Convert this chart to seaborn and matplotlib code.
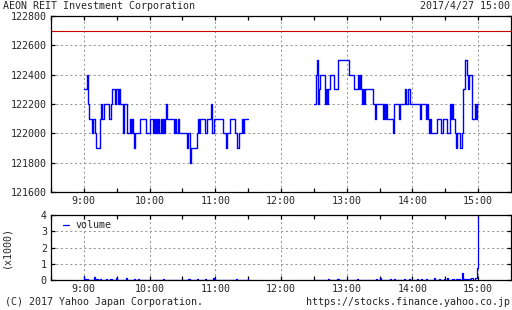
import numpy as np
import pandas as pd
import matplotlib
matplotlib.use("Agg")
import matplotlib.pyplot as plt
import seaborn as sns

# ---------------- data ----------------
title = "AEON REIT Investment Corporation"
stamp = "2017/4/27 15:00"
copyright_txt = "(C) 2017 Yahoo Japan Corporation."
url_txt = "https://stocks.finance.yahoo.co.jp"

am_start = 9 * 60          # 9:00
pm_start = 12 * 60 + 30    # 12:30
prev_close = 122700

# minute-by-minute prices, 9:00 .. 11:30
am_price = [
    122300, 122300, 122300, 122400, 122200, 122100, 122100, 122000, 122100, 122100,
    122000, 121900, 121900, 121900, 121900, 122100, 122200, 122100, 122200, 122200,
    122200, 122200, 122200, 122100, 122100, 122200, 122300, 122300, 122200, 122300,
    122300, 122200, 122300, 122200, 122200, 122200, 122000, 122200, 122200, 122000,
    122000, 122000, 122100, 122000, 122100, 122000, 121900, 122000, 122000, 122000,
    122000, 122100, 122100, 122100, 122100, 122100, 122100, 122000, 122000, 122000,
    122100, 122100, 122100, 122000, 122100, 122000, 122100, 122000, 122100, 122000,
    122100, 122000, 122100, 122000, 122100, 122200, 122100, 122100, 122100, 122100,
    122100, 122100, 122000, 122100, 122000, 122000, 122100, 122000, 122000, 122000,
    122000, 122000, 122000, 122000, 121900, 122000, 122000, 121800, 121900, 121900,
    121900, 121900, 121900, 122000, 122100, 122000, 122100, 122100, 122100, 122100,
    122100, 122000, 122100, 122100, 122100, 122100, 122200, 122000, 122000, 122100,
    122100, 122100, 122100, 122100, 122100, 122100, 122100, 122000, 122000, 122000,
    121900, 122000, 122000, 122100, 122100, 122100, 122100, 122100, 122000, 122000,
    121900, 121900, 122000, 122000, 122100, 122000, 122100, 122100, 122100, 122100,
    122100,
]

# minute-by-minute prices, 12:30 .. 15:00
pm_price = [
    122200, 122200, 122400, 122500, 122200, 122300, 122400, 122400, 122400, 122400,
    122200, 122300, 122200, 122300, 122300, 122400, 122400, 122400, 122300, 122300,
    122300, 122300, 122500, 122500, 122500, 122500, 122500, 122500, 122500, 122500,
    122500, 122500, 122400, 122400, 122400, 122400, 122400, 122300, 122300, 122300,
    122400, 122300, 122400, 122300, 122200, 122300, 122200, 122300, 122300, 122300,
    122300, 122300, 122300, 122300, 122200, 122200, 122100, 122200, 122200, 122200,
    122200, 122200, 122200, 122100, 122200, 122100, 122200, 122100, 122100, 122100,
    122100, 122100, 122000, 122200, 122200, 122200, 122200, 122200, 122100, 122200,
    122200, 122200, 122200, 122300, 122200, 122200, 122300, 122300, 122200, 122200,
    122200, 122200, 122200, 122200, 122200, 122200, 122200, 122100, 122200, 122200,
    122200, 122200, 122100, 122200, 122100, 122000, 122100, 122000, 122000, 122000,
    122000, 122000, 122100, 122100, 122100, 122100, 122000, 122000, 122100, 122100,
    122100, 122100, 122000, 122000, 122200, 122100, 122200, 122100, 122100, 122000,
    121900, 122000, 122000, 121900, 121900, 122000, 122300, 122300, 122500, 122500,
    122400, 122300, 122400, 122400, 122100, 122100, 122100, 122200, 122100, 122200,
    122200,
]

# volume (x1000) at minutes with trades (offset from session start)
am_vol_min = [0, 1, 3, 10, 12, 15, 21, 24, 25, 30, 39, 46, 50, 73, 96, 104, 111, 118, 119, 139, 150]
am_vol_val = [0.25, 0.08, 0.05, 0.2, 0.05, 0.05, 0.05, 0.05, 0.05, 0.12, 0.1, 0.06, 0.05,
              0.05, 0.05, 0.05, 0.05, 0.1, 0.05, 0.05, 0.08]
pm_vol_min = [13, 22, 40, 57, 61, 70, 74, 83, 87, 95, 98, 103, 110, 115, 119, 122, 127,
              130, 131, 132, 133, 136, 138, 139, 140, 141, 142, 143, 144, 145, 148, 149, 150]
pm_vol_val = [0.04, 0.04, 0.04, 0.06, 0.15, 0.04, 0.04, 0.05, 0.08, 0.04, 0.08, 0.05, 0.15,
              0.05, 0.05, 0.15, 0.05, 0.06, 0.06, 0.06, 0.06, 0.45, 0.08, 0.08, 0.08, 0.08,
              0.08, 0.08, 0.1, 0.15, 0.1, 0.72, 3.9]

price_ticks = [121600, 121800, 122000, 122200, 122400, 122600, 122800]
vol_ticks = [0, 1, 2, 3, 4]
hour_ticks = [9, 10, 11, 12, 13, 14, 15]

# ---------------- frames ----------------
am_df = pd.DataFrame({"t": am_start + np.arange(len(am_price)), "price": am_price})
pm_df = pd.DataFrame({"t": pm_start + np.arange(len(pm_price)), "price": pm_price})

def vol_frame(start, n, mins, vals):
    v = np.zeros(n)
    v[mins] = vals
    return pd.DataFrame({"t": start + np.arange(n), "vol": v})

am_vdf = vol_frame(am_start, len(am_price), am_vol_min, am_vol_val)
pm_vdf = vol_frame(pm_start, len(pm_price), pm_vol_min, pm_vol_val)

# ---------------- style ----------------
sns.set_style("white")
plt.rcParams["font.family"] = ["DejaVu Sans Mono", "DejaVu Sans"]
FS = 7.2
BLUE = "#0000ff"
GRID = dict(color="#999999", linestyle=(0, (2, 2.5)), linewidth=0.75)

W, H = 512, 310
fig = plt.figure(figsize=(W / 100, H / 100), dpi=100)
fig.patch.set_facecolor("white")

ax = fig.add_axes([51 / W, (H - 192) / H, 460 / W, 176 / H])
ax2 = fig.add_axes([51 / W, (H - 280) / H, 460 / W, 65 / H])

xmin, xmax = 8 * 60 + 30, 15 * 60 + 30
hour_pos = [h * 60 for h in hour_ticks]
half_pos = [h * 60 + 30 for h in range(8, 15)]

for a in (ax, ax2):
    a.set_facecolor("white")
    a.set_xlim(xmin, xmax)
    a.set_xticks(hour_pos)
    a.set_xticks(half_pos, minor=True)
    a.set_xticklabels([f"{h}:00" for h in hour_ticks], fontsize=FS)
    for s in a.spines.values():
        s.set_color("black")
        s.set_linewidth(0.9)
        s.set_visible(True)
    a.tick_params(axis="both", which="both", direction="in", top=True, right=True,
                  left=True, bottom=True, length=3, width=0.9, color="black",
                  labelsize=FS, pad=3)
    a.xaxis.grid(True, which="major", **GRID)
    a.yaxis.grid(True, which="major", **GRID)
    a.set_axisbelow(True)

# price panel
ax.axhline(prev_close, color="#cc0000", linewidth=0.8, zorder=2)
for df in (am_df, pm_df):
    sns.lineplot(data=df, x="t", y="price", ax=ax, color=BLUE, linewidth=1.0,
                 drawstyle="steps-post", estimator=None, zorder=3)
ax.set_ylim(price_ticks[0], price_ticks[-1])
ax.set_yticks(price_ticks)
ax.set_yticklabels([str(v) for v in price_ticks], fontsize=FS)
ax.set_xlabel("")
ax.set_ylabel("")

# volume panel
sns.lineplot(data=am_vdf, x="t", y="vol", ax=ax2, color=BLUE, linewidth=0.9,
             drawstyle="steps-mid", estimator=None, zorder=3, label="volume")
sns.lineplot(data=pm_vdf, x="t", y="vol", ax=ax2, color=BLUE, linewidth=0.9,
             drawstyle="steps-mid", estimator=None, zorder=3)
ax2.set_ylim(vol_ticks[0], vol_ticks[-1])
ax2.set_yticks(vol_ticks)
ax2.set_yticklabels([str(v) for v in vol_ticks], fontsize=FS)
ax2.set_xlabel("")
ax2.set_ylabel("(x1000)", fontsize=FS)
ax2.yaxis.set_label_coords(-40 / 460, 0.5)
ax2.legend(loc="upper left", bbox_to_anchor=(12 / 460, 0.92), frameon=False,
           fontsize=FS, handlelength=0.6, handletextpad=0.7, borderpad=0,
           borderaxespad=0)

# header / footer text
fig.text(3 / W, 1 - 6 / H, title, fontsize=FS, ha="left", va="center")
fig.text(510 / W, 1 - 6 / H, stamp, fontsize=FS, ha="right", va="center")
fig.text(5 / W, 1 - 302 / H, copyright_txt, fontsize=FS, ha="left", va="center")
fig.text(510 / W, 1 - 302 / H, url_txt, fontsize=FS, ha="right", va="center")

fig.savefig("out.png", dpi=100, facecolor="white")
